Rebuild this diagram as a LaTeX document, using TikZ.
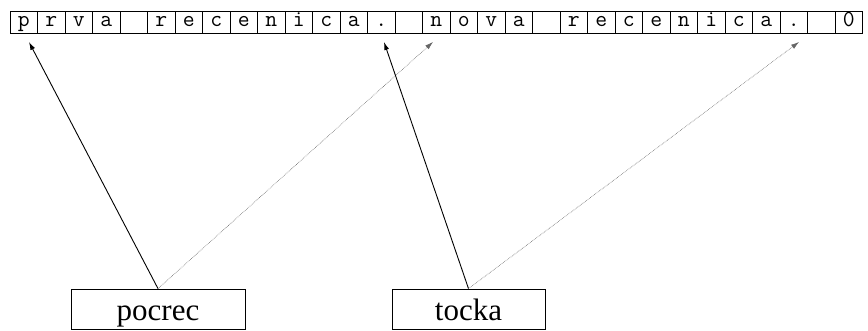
\documentclass[tikz,border=0pt]{standalone}
\usepackage{fontspec}
\setmainfont{Liberation Serif}
\usetikzlibrary{arrows.meta}
\begin{document}
\begin{tikzpicture}[x=1pt,y=-1pt,
  cellbox/.style={draw, line width=1pt, minimum width=27.5pt, minimum height=22pt,
    inner sep=0pt, outer sep=0pt, anchor=north west,
    font=\fontsize{23}{23}\selectfont\ttfamily, text height=15pt, text depth=6pt},
  labelbox/.style={draw, line width=0.8pt, minimum height=40pt, inner sep=0pt,
    font=\fontsize{31}{31}\selectfont, text height=29pt, text depth=7pt},
  ptr/.style={line width=0.9pt, -{Latex[length=8pt,width=5pt]}},
  dptr/.style={line width=0.6pt, gray!80!black, densely dotted, -{Latex[length=8pt,width=5pt]}}]
\useasboundingbox (0,0) rectangle (868,330);
\foreach \ch [count=\i] in {p,r,v,a,{},r,e,c,e,n,i,c,a,.,{},n,o,v,a,{},r,e,c,e,n,i,c,a,.,{},0}
  \node[cellbox] (c\i) at ({10+27.5*(\i-1)},11) {\ch};
\node[labelbox, minimum width=174pt] (pocrec) at (158,309) {pocrec};
\node[labelbox, minimum width=153pt] (tocka) at (468.5,309) {tocka};
\coordinate (t1) at (29,42);
\coordinate (t2) at (433,42);
\coordinate (t3) at (384,42);
\coordinate (t4) at (799,42);
\draw[ptr] (pocrec.north) -- (t1);
\draw[dptr] (pocrec.north) -- (t2);
\draw[ptr] (tocka.north) -- (t3);
\draw[dptr] (tocka.north) -- (t4);
\end{tikzpicture}
\end{document}
